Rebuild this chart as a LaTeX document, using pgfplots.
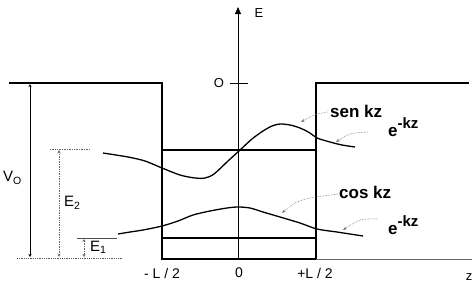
\documentclass[border=0pt]{standalone}
\usepackage{fontspec}
\setmainfont{Liberation Sans}
\usepackage{pgfplots}
\pgfplotsset{compat=1.18}
\usetikzlibrary{arrows.meta}
\begin{document}
\begin{tikzpicture}
\begin{axis}[
  scale only axis, width=473pt, height=285pt,
  xmin=0, xmax=473, ymin=0, ymax=285, y dir=reverse,
  hide axis, clip=false,
]
\path (rel axis cs:0,0) rectangle (rel axis cs:1,1);
% potential well
\addplot[black, line width=1.3pt] coordinates {(9,83) (162,83) (162,259) (316,259) (316,83) (469,83)};
% baselines
\addplot[black!65, line width=0.8pt, densely dotted] coordinates {(17,258) (123,258)};
\addplot[black!60, line width=0.8pt] coordinates {(316,259) (472,259)};
% energy levels inside the well
\addplot[black, line width=1.1pt] coordinates {(162,150) (316,150)};
\addplot[black, line width=1.1pt] coordinates {(162,238) (316,238)};
% E axis
\addplot[black, line width=0.9pt, -{Triangle[length=7pt,width=6pt]}] coordinates {(238,259) (238,7)};
\addplot[black, line width=0.9pt] coordinates {(230,83) (248,83)};
% V0 arrow
\addplot[black, line width=0.9pt, {Stealth[length=3pt,width=3pt]}-{Stealth[length=3pt,width=3pt]}] coordinates {(30,84) (30,257)};
% E2 level and arrow
\addplot[black!60, line width=0.7pt, densely dotted] coordinates {(50,149) (90,149)};
\addplot[black!60, line width=0.7pt, densely dotted, {Stealth[length=3.5pt,width=3pt]}-{Stealth[length=3.5pt,width=3pt]}] coordinates {(59,150) (59,257)};
% E1 level and arrow
\addplot[black!70, line width=0.8pt] coordinates {(77,238) (117,238)};
\addplot[black!60, line width=0.7pt, densely dotted, {Stealth[length=3pt,width=3pt]}-{Stealth[length=3pt,width=3pt]}] coordinates {(84,239) (84,257)};
% sine wavefunction
\addplot[black, line width=1.3pt, smooth] coordinates {
 (103,153) (128,157) (145,161) (162,168) (180,175) (195,178) (205,178) (214,174)
 (228,161) (240,150) (252,139) (263,131) (272,126) (280,124) (290,125) (300,128)
 (310,133) (317,138) (330,142) (342,145) (355,147)};
% cosine wavefunction
\addplot[black, line width=1.3pt, smooth] coordinates {
 (118,234) (130,232) (143,230) (162,226) (178,221) (193,215) (210,211) (227,208)
 (238,207) (250,208) (263,212) (280,217) (300,223) (317,229) (337,232) (350,234) (363,236)};
% leaders
\addplot[black!55, line width=0.6pt, densely dotted, smooth, -{Stealth[length=4pt,width=3pt]}] coordinates {(328,112) (314,115) (301,122)};
\addplot[black!55, line width=0.6pt, densely dotted, smooth, -{Stealth[length=4pt,width=3pt]}] coordinates {(368,132) (350,134) (336,142)};
\addplot[black!55, line width=0.6pt, densely dotted, smooth, -{Stealth[length=4pt,width=3pt]}] coordinates {(338,194) (310,198) (295,203) (282,213)};
\addplot[black!55, line width=0.6pt, densely dotted, smooth, -{Stealth[length=4pt,width=3pt]}] coordinates {(377,219) (360,220) (343,230)};
% labels
\node[anchor=west, inner sep=0pt, font=\bfseries\fontsize{17}{17}\selectfont] at (axis cs:330,111) {sen kz};
\node[anchor=west, inner sep=0pt, font=\bfseries\fontsize{17}{17}\selectfont] at (axis cs:339,192) {cos kz};
\node[anchor=west, inner sep=0pt, font=\bfseries\fontsize{17}{17}\selectfont] at (axis cs:388,127) {e\raisebox{8pt}{\fontsize{15}{15}\selectfont -kz}};
\node[anchor=west, inner sep=0pt, font=\bfseries\fontsize{17}{17}\selectfont] at (axis cs:388,225) {e\raisebox{8pt}{\fontsize{15}{15}\selectfont -kz}};
\node[inner sep=0pt, font=\fontsize{13}{13}\selectfont] at (axis cs:259,13) {E};
\node[inner sep=0pt, font=\fontsize{13}{13}\selectfont] at (axis cs:219,83) {O};
\node[anchor=west, inner sep=0pt, font=\fontsize{15}{15}\selectfont] at (axis cs:3,178) {V\textsubscript{O}};
\node[anchor=west, inner sep=0pt, font=\fontsize{15}{15}\selectfont] at (axis cs:64,203) {E\textsubscript{2}};
\node[anchor=west, inner sep=0pt, font=\fontsize{15}{15}\selectfont] at (axis cs:90,247) {E\textsubscript{1}};
\node[inner sep=0pt, font=\fontsize{14}{14}\selectfont] at (axis cs:162,273) {- L / 2};
\node[inner sep=0pt, font=\fontsize{14}{14}\selectfont] at (axis cs:239,273) {0};
\node[inner sep=0pt, font=\fontsize{14}{14}\selectfont] at (axis cs:315,273) {+L / 2};
\node[inner sep=0pt, font=\fontsize{13}{13}\selectfont] at (axis cs:469,277) {z};
\end{axis}
\end{tikzpicture}
\end{document}
